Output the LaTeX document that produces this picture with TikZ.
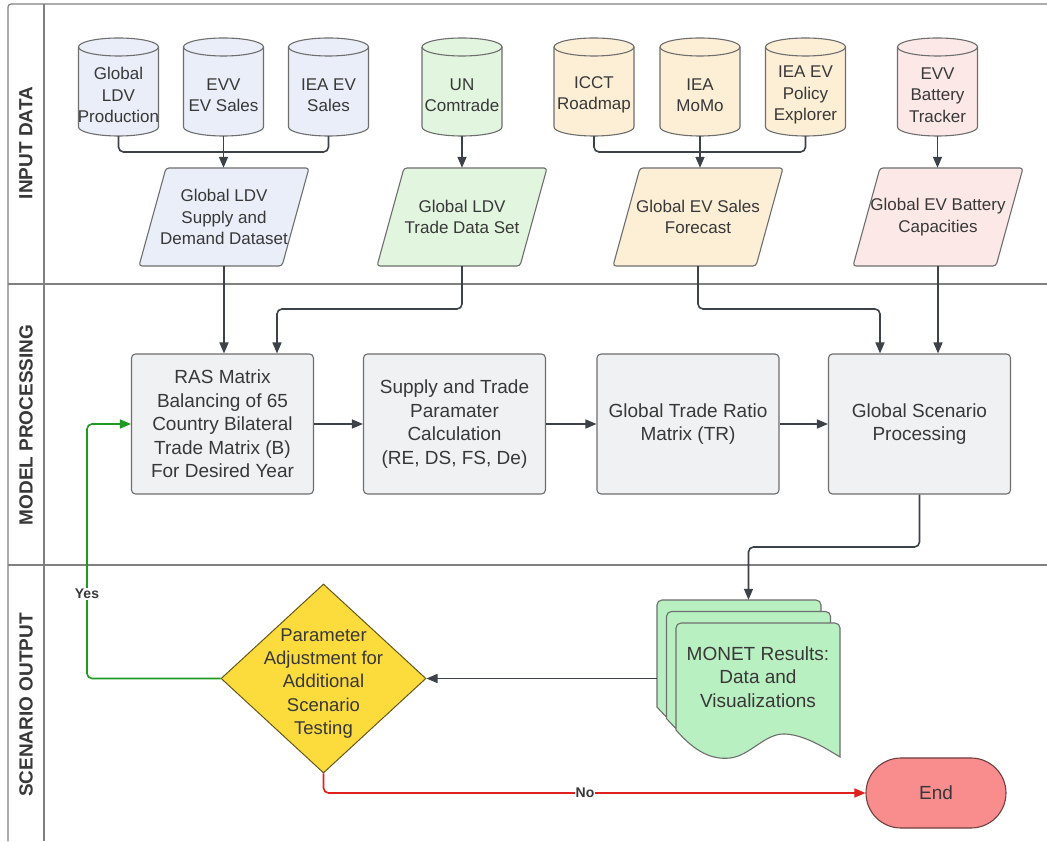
\documentclass[tikz,border=0pt]{standalone}
\usepackage{fontspec}
\setmainfont{Liberation Sans}
\usetikzlibrary{arrows.meta,backgrounds,calc,shapes.geometric}
\definecolor{linec}{HTML}{3D4249}
\definecolor{bordc}{HTML}{6E6E6E}
\definecolor{lanec}{HTML}{808080}
\definecolor{txtc}{HTML}{383838}
\definecolor{cblue}{HTML}{E9EEF8}
\definecolor{cgreen}{HTML}{E1F5DF}
\definecolor{cbeige}{HTML}{FCEFD6}
\definecolor{cpink}{HTML}{FCE9E7}
\definecolor{boxc}{HTML}{F0F1F3}
\definecolor{monetc}{HTML}{B9F0C1}
\definecolor{yellowc}{HTML}{FCDB3D}
\definecolor{endc}{HTML}{F98C8C}
\definecolor{greenl}{HTML}{1E9A22}
\definecolor{redl}{HTML}{E0201E}
\tikzset{
 txtS/.style={font=\fontsize{17}{21.5}\selectfont, text=txtc, align=center, inner sep=0pt},
 txtM/.style={font=\fontsize{19}{23.5}\selectfont, text=txtc, align=center, inner sep=0pt},
 cylnode/.style={txtS, minimum width=80pt, minimum height=82pt},
 parnode/.style={txtS, minimum width=170pt, minimum height=98pt},
 procbox/.style={txtM, draw=bordc, line width=1.1pt, fill=boxc, rounded corners=4pt, minimum width=182pt, minimum height=140pt},
 shapeb/.style={draw=bordc, line width=1.1pt},
 conn/.style={draw=linec, line width=1.6pt, rounded corners=5pt},
 arr/.style={conn, -{Triangle[length=11pt,width=9pt]}},
 lanelbl/.style={rotate=90, font=\fontsize{19}{23}\selectfont\bfseries, text=txtc},
 yesno/.style={font=\fontsize{14}{16}\selectfont\bfseries, text=txtc, fill=white, inner sep=1pt},
}
\begin{document}
\begin{tikzpicture}[x=1pt,y=1pt]
\useasboundingbox (0,0) rectangle (1047,841);
% lanes
\draw[lanec, line width=1.2pt, rounded corners=3pt] (1047,837) -- (8,837) -- (8,0);
\draw[lanec, line width=1.2pt] (44,837) -- (44,0);
\draw[lanec, line width=1.2pt] (8,557) -- (1047,557);
\draw[lanec, line width=1.2pt] (8,276) -- (1047,276);
\node[lanelbl] (l1) at (26,698) {INPUT DATA};
\node[lanelbl] (l2) at (26,416) {MODEL PROCESSING};
\node[lanelbl] (l3) at (26,136) {SCENARIO OUTPUT};

% cylinders (text nodes)
\node[cylnode] (c1) at (118.5,746) {Global\\LDV\\Production};
\node[cylnode] (c2) at (223.5,746) {EVV\\EV Sales};
\node[cylnode] (c3) at (328.5,746) {IEA EV\\Sales};
\node[cylnode] (c4) at (462,746) {UN\\Comtrade};
\node[cylnode] (c5) at (594,746) {ICCT\\Roadmap};
\node[cylnode] (c6) at (700,746) {IEA\\MoMo};
\node[cylnode] (c7) at (805.5,746) {IEA EV\\Policy\\Explorer};
\node[cylnode] (c8) at (937.5,746) {EVV\\Battery\\Tracker};

% parallelograms (text nodes)
\node[parnode] (p1) at (224,624) {Global LDV\\Supply and\\Demand Dataset};
\node[parnode] (p2) at (462,624) {Global LDV\\Trade Data Set};
\node[parnode] (p3) at (698,624) {Global EV Sales\\Forecast};
\node[parnode] (p4) at (938,624) {Global EV Battery\\Capacities};

\begin{scope}[on background layer]
\fill[white] (0,0) rectangle (1047,841);
\foreach \cx/\col in {118.5/cblue,223.5/cblue,328.5/cblue,462/cgreen,594/cbeige,700/cbeige,805.5/cbeige,937.5/cpink}{
  \filldraw[shapeb, fill=\col] (\cx-40,794) -- (\cx-40,714) arc[start angle=180, end angle=360, x radius=40, y radius=9] -- (\cx+40,794) arc[start angle=0, end angle=180, x radius=40, y radius=9] -- cycle;
  \draw[shapeb] (\cx-40,794) arc[start angle=180, end angle=360, x radius=40, y radius=9];
}
\foreach \cx/\col in {224/cblue,462/cgreen,698/cbeige,938/cpink}{
  \filldraw[shapeb, fill=\col, rounded corners=3pt] (\cx-85,575) -- (\cx+58,575) -- (\cx+85,673) -- (\cx-58,673) -- cycle;
}
\foreach \dx/\dy in {-19/23,-9.5/11.5,0/0}{
  \begin{scope}[shift={(\dx,\dy)}]
  \filldraw[shapeb, fill=monetc] (676,111) -- (676,213) arc[start angle=180,end angle=90,radius=5] -- (835,218) arc[start angle=90,end angle=0,radius=5] -- (840,84) .. controls (825,93) and (805,106) .. (785,107) .. controls (765,108) and (750,85) .. (730,83) .. controls (712,81) and (695,89) .. (676,111) -- cycle;
  \end{scope}
}
\end{scope}

% input connectors
\coordinate (j1) at (223.5,689);
\coordinate (j2) at (700,689);
\draw[conn] (c1.south) |- (j1) -| (c3.south);
\draw[arr] (c2.south) -- (c2.south |- p1.north);
\draw[arr] (c4.south) -- (c4.south |- p2.north);
\draw[conn] (c5.south) |- (j2) -| (c7.south);
\draw[arr] (c6.south) -- (c6.south |- p3.north);
\draw[arr] (c8.south) -- (c8.south |- p4.north);

% model boxes
\node[procbox] (ras) at (222.5,417) {RAS Matrix\\Balancing of 65\\Country Bilateral\\Trade Matrix (B)\\For Desired Year};
\node[procbox] (sup) at (454.5,417) {Supply and Trade\\Paramater\\Calculation\\(RE, DS, FS, De)};
\node[procbox] (tr) at (688,417) {Global Trade Ratio\\Matrix (TR)};
\node[procbox] (scen) at (919.5,417) {Global Scenario\\Processing};
\draw[arr] (ras.east) -- (sup.west);
\draw[arr] (sup.east) -- (tr.west);
\draw[arr] (tr.east) -- (scen.west);

\coordinate (j3) at (277,532);
\coordinate (j4) at (880,532);
\draw[arr] (p1.south) -- (p1.south |- ras.north);
\draw[arr] (p2.south) |- (j3) -- (j3 |- ras.north);
\draw[arr] (p3.south) |- (j4) -- (j4 |- scen.north);
\draw[arr] (p4.south) -- (p4.south |- scen.north);

% output
\node[minimum width=183pt, minimum height=157pt, inner sep=0pt] (monet) at (748.5,162.5) {};
\node[txtM] (monettxt) at (758,164) {MONET Results:\\Data and\\Visualizations};
\coordinate (j5) at (748.5,294);
\draw[arr] (scen.south) |- (j5) -- (monet.north);

\node[diamond, draw=black!60!yellowc, line width=1pt, fill=yellowc, minimum width=205pt, minimum height=189pt, inner sep=0pt] (dec) at (323.5,162.5) {};
\node[txtM, font=\fontsize{18.5}{23.3}\selectfont] (dectxt) at (323.5,157.5) {Parameter\\Adjustment for\\Additional\\Scenario\\Testing};
\draw[arr] (monet.west) -- (dec.east);

\node[txtM, draw=black!55!endc, line width=1.1pt, fill=endc, rounded corners=35pt, minimum width=140pt, minimum height=70pt] (endn) at (936,48) {End};

\coordinate (j6) at (87,162.5);
\draw[arr, draw=greenl] (dec.west) -- (j6) |- (ras.west);
\draw[arr, draw=redl] (dec.south) |- (endn.west);
\node[yesno] (yes) at (87,247) {Yes};
\node[yesno] (no) at (585,48) {No};
\end{tikzpicture}
\end{document}
